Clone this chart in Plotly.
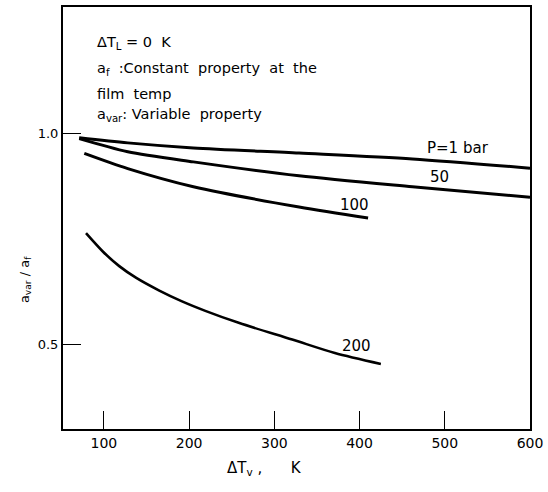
import plotly.graph_objects as go

# Data
x_p1 = [71, 128, 205, 329, 462, 600]
y_p1 = [0.990, 0.978, 0.966, 0.954, 0.940, 0.918]

x_p50 = [71, 128, 205, 329, 462, 600]
y_p50 = [0.988, 0.957, 0.933, 0.900, 0.874, 0.849]

x_p100 = [77, 128, 205, 329, 410]
y_p100 = [0.953, 0.917, 0.874, 0.826, 0.800]

x_p200 = [79, 99, 118, 138, 165, 191, 219, 259, 321, 371, 425]
y_p200 = [0.764, 0.720, 0.686, 0.658, 0.628, 0.603, 0.580, 0.551, 0.512, 0.480, 0.454]

curve_labels = ["P=1 bar", "50", "100", "200"]
label_x = [516, 494, 394, 396]
label_y = [0.967, 0.898, 0.831, 0.496]

x_ticks = [100, 200, 300, 400, 500, 600]
y_ticks = [0.5, 1.0]
y_tick_text = ["0.5", "1.0"]

FONT = "DejaVu Sans"

fig = go.Figure()
series = [(x_p1, y_p1, 3), (x_p50, y_p50, 3), (x_p100, y_p100, 3), (x_p200, y_p200, 2.6)]
for xs, ys, w in series:
    fig.add_trace(go.Scatter(x=xs, y=ys, mode="lines",
                             line=dict(color="black", width=w, shape="spline", smoothing=0.8),
                             showlegend=False, hoverinfo="skip"))

for t, lx, ly in zip(curve_labels, label_x, label_y):
    fig.add_annotation(x=lx, y=ly, text=t, showarrow=False,
                       font=dict(family=FONT, size=15, color="black"))

info_lines = [
    ("ΔT<sub>L</sub> = 0&nbsp;&nbsp;K", 0.914),
    ("a<sub>f</sub>&nbsp;&nbsp;:Constant&nbsp;&nbsp;property&nbsp;&nbsp;at&nbsp;&nbsp;the", 0.853),
    ("film&nbsp;&nbsp;temp", 0.794),
    ("a<sub>var</sub>: Variable&nbsp;&nbsp;property", 0.745),
]
for t, py in info_lines:
    fig.add_annotation(xref="paper", yref="paper", x=0.068, y=py, text=t,
                       showarrow=False, xanchor="left", yanchor="middle",
                       font=dict(family=FONT, size=14.5, color="black"))

fig.add_annotation(xref="paper", yref="paper", x=0.431, y=-0.121,
                   text="ΔT<sub>v</sub> ,&nbsp;&nbsp;&nbsp;&nbsp;&nbsp;&nbsp;K", showarrow=False,
                   font=dict(family=FONT, size=15, color="black"))
fig.add_annotation(xref="paper", yref="paper", x=-0.104, y=0.355,
                   text="a<sub>var</sub> / a<sub>f</sub>", showarrow=False, textangle=-90,
                   font=dict(family=FONT, size=13, color="black"))

fig.update_xaxes(range=[52, 600], tickvals=x_ticks, ticks="inside", ticklen=18,
                 tickwidth=1.3, tickcolor="black", showline=True, linecolor="black",
                 linewidth=2, mirror=True, showgrid=False, zeroline=False,
                 tickfont=dict(family=FONT, size=14, color="black"))
fig.update_yaxes(range=[0.3, 1.3], tickvals=y_ticks, ticktext=y_tick_text,
                 ticks="inside", ticklen=18, tickwidth=1.3, tickcolor="black",
                 showline=True, linecolor="black", linewidth=2, mirror=True,
                 showgrid=False, zeroline=False,
                 tickfont=dict(family=FONT, size=13, color="black"))

fig.update_layout(width=548, height=492, margin=dict(l=63, r=14, t=5, b=63),
                  paper_bgcolor="white", plot_bgcolor="white")

fig.write_html("out.html")
